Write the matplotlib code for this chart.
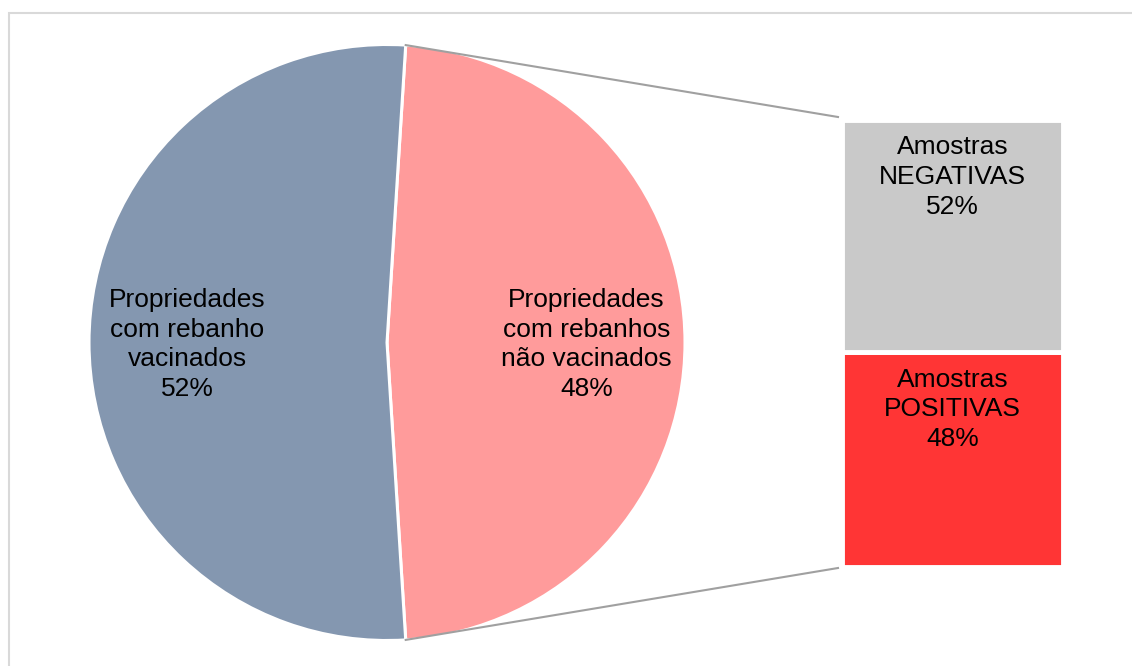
import numpy as np
import matplotlib.pyplot as plt
from matplotlib.patches import Rectangle

plt.rcParams['font.family'] = ['Liberation Sans', 'DejaVu Sans']

# dados
pie_labels = ['Propriedades\ncom rebanhos\nnão vacinados', 'Propriedades\ncom rebanho\nvacinados']
pie_values = [48, 52]
pie_colors = ['#FF9B9B', '#8497B0']

bar_labels = ['Amostras\nPOSITIVAS', 'Amostras\nNEGATIVAS']
bar_values = [48, 52]
bar_colors = ['#FF3535', '#C9C9C9']

W, H = 1132, 666
fig = plt.figure(figsize=(W / 100, H / 100), dpi=100)
ax = fig.add_axes([0, 0, 1, 1])

# pizza
cx, cy, r = 387, H - 342.5, 298
start = 90 - (180 - 360 * pie_values[0] / 100) / 2  # fatia rosa centrada à direita
wedges, _ = ax.pie(pie_values, colors=pie_colors, startangle=start, counterclock=False,
                   center=(cx, cy), radius=r, frame=True,
                   wedgeprops=dict(edgecolor='white', linewidth=2.2))
for w, lab, v in zip(wedges, pie_labels, pie_values):
    mid = np.deg2rad((w.theta1 + w.theta2) / 2)
    ax.text(cx + 0.67 * r * np.cos(mid), cy + 0.67 * r * np.sin(mid) - 2, f'{lab}\n{v}%',
            ha='center', va='center', fontsize=19, linespacing=1.3, zorder=5)

# barra
bx, bw = 952.5, 221
btop, bbot = H - 120, H - 567
total = btop - bbot
bottom = bbot
for lab, v, c in zip(bar_labels, bar_values, bar_colors):
    h = v / 100 * total
    ax.bar(bx, h, width=bw, bottom=bottom, color=c, edgecolor='white', linewidth=3.5, zorder=3)
    ax.text(bx, bottom + h - 57, f'{lab}\n{v}%', ha='center', va='center',
            fontsize=19, linespacing=1.3, zorder=5)
    bottom += h

# linhas de ligação
a1 = np.deg2rad(wedges[0].theta2)
a2 = np.deg2rad(wedges[0].theta1)
ax.plot([cx + r * np.cos(a1), bx - bw / 2 - 4], [cy + r * np.sin(a1), btop + 3],
        color='#A0A0A0', lw=1.5, zorder=1)
ax.plot([cx + r * np.cos(a2), bx - bw / 2 - 4], [cy + r * np.sin(a2), bbot - 1],
        color='#A0A0A0', lw=1.5, zorder=1)

ax.set_xlim(0, W)
ax.set_ylim(0, H)
ax.set_aspect('equal')
ax.axis('off')

# borda do gráfico
fig.patches.append(Rectangle((8.5, -5), W, H - 13 + 5, transform=None, fill=False,
                             edgecolor='#D9D9D9', lw=1.5))

fig.savefig('out.png', dpi=100)
